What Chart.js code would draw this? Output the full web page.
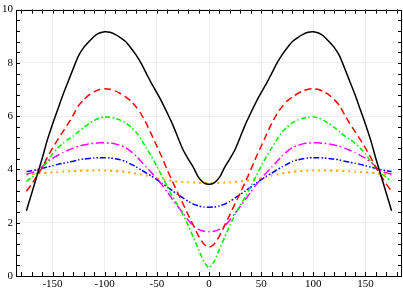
<!DOCTYPE html>
<html>
<head>
<meta charset="utf-8">
<script src="https://cdn.jsdelivr.net/npm/chart.js@4.4.1/dist/chart.umd.min.js"></script>
<style>
html,body{margin:0;padding:0;background:#fff;}
#wrap{width:403px;height:288px;position:relative;}
</style>
</head>
<body>
<div id="wrap"><canvas id="c" width="403" height="288"></canvas></div>
<script>
// x positions (degrees)
const xValues = [-175,-170,-165,-160,-155,-150,-145,-140,-135,-130,-125,-120,-115,-110,-105,-100,-95,-90,-85,-80,-75,-70,-65,-60,-55,-50,-45,-40,-35,-30,-25,-20,-15,-10,-5,0,
  5,10,15,20,25,30,35,40,45,50,55,60,65,70,75,80,85,90,95,100,105,110,115,120,125,130,135,140,145,150,155,160,165,170,175];

const blackSeries = [2.45,3.1,3.75,4.4,5.1,5.7,6.25,6.8,7.3,7.8,8.27,8.58,8.8,9.0,9.12,9.17,9.15,9.07,8.95,8.8,8.57,8.3,7.98,7.6,7.22,6.88,6.52,6.12,5.7,5.22,4.75,4.4,4.08,3.7,3.5,3.44,
  3.5,3.7,4.08,4.4,4.75,5.22,5.7,6.12,6.52,6.88,7.22,7.6,7.98,8.3,8.57,8.8,8.95,9.07,9.15,9.17,9.12,9.0,8.8,8.58,8.27,7.8,7.3,6.8,6.25,5.7,5.1,4.4,3.75,3.1,2.45];

const redSeries = [3.18,3.45,3.75,4.07,4.45,4.8,5.12,5.42,5.72,6.05,6.4,6.62,6.8,6.92,7.0,7.03,7.01,6.95,6.85,6.72,6.58,6.35,6.08,5.72,5.3,4.87,4.45,3.98,3.55,3.12,2.72,2.3,1.9,1.5,1.2,1.08,
  1.2,1.5,1.9,2.3,2.72,3.12,3.55,3.98,4.45,4.87,5.3,5.72,6.08,6.35,6.58,6.72,6.85,6.95,7.01,7.03,7.0,6.92,6.8,6.62,6.4,6.05,5.72,5.42,5.12,4.8,4.45,4.07,3.75,3.45,3.18];

const greenSeries = [3.55,3.7,3.85,4.05,4.3,4.58,4.8,4.98,5.13,5.26,5.42,5.58,5.72,5.84,5.93,5.97,5.96,5.92,5.85,5.75,5.6,5.4,5.12,4.8,4.48,4.12,3.74,3.36,2.98,2.66,2.3,1.9,1.45,1.0,0.55,0.31,
  0.55,1.0,1.45,1.9,2.3,2.66,2.98,3.36,3.74,4.12,4.48,4.8,5.12,5.4,5.6,5.75,5.85,5.92,5.96,5.97,5.93,5.84,5.72,5.58,5.42,5.26,5.13,4.98,4.8,4.58,4.3,4.05,3.85,3.7,3.55];

const magentaSeries = [3.83,3.87,3.95,4.1,4.28,4.42,4.53,4.63,4.72,4.8,4.87,4.92,4.96,4.98,5.0,5.0,4.99,4.96,4.9,4.82,4.68,4.5,4.3,4.08,3.88,3.65,3.42,3.15,2.88,2.62,2.36,2.1,1.88,1.75,1.68,1.66,
  1.68,1.75,1.88,2.1,2.36,2.62,2.88,3.15,3.42,3.65,3.88,4.08,4.3,4.5,4.68,4.82,4.9,4.96,4.99,5.0,5.0,4.98,4.96,4.92,4.87,4.8,4.72,4.63,4.53,4.42,4.28,4.1,3.95,3.87,3.83];

const blueSeries = [3.92,3.95,3.99,4.04,4.09,4.14,4.19,4.23,4.27,4.31,4.36,4.39,4.41,4.43,4.44,4.44,4.43,4.4,4.36,4.3,4.2,4.1,3.98,3.86,3.75,3.62,3.48,3.34,3.2,3.06,2.93,2.8,2.7,2.63,2.59,2.58,
  2.59,2.63,2.7,2.8,2.93,3.06,3.2,3.34,3.48,3.62,3.75,3.86,3.98,4.1,4.2,4.3,4.36,4.4,4.43,4.44,4.44,4.43,4.41,4.39,4.36,4.31,4.27,4.23,4.19,4.14,4.09,4.04,3.99,3.95,3.92];

const orangeSeries = [3.8,3.82,3.84,3.86,3.88,3.89,3.9,3.92,3.93,3.94,3.95,3.95,3.96,3.96,3.96,3.96,3.95,3.94,3.93,3.91,3.88,3.85,3.81,3.77,3.72,3.67,3.63,3.6,3.57,3.55,3.53,3.52,3.51,3.5,3.49,3.49,
  3.49,3.5,3.51,3.52,3.53,3.55,3.57,3.6,3.63,3.67,3.72,3.77,3.81,3.85,3.88,3.91,3.93,3.94,3.95,3.96,3.96,3.96,3.96,3.95,3.95,3.94,3.93,3.92,3.9,3.89,3.88,3.86,3.84,3.82,3.8];

const xTickLabels = [-150,-100,-50,0,50,100,150];
const yTickLabels = [0,2,4,6,8,10];
const xMinorTicks = [-180,-170,-160,-150,-140,-130,-120,-110,-100,-90,-80,-70,-60,-50,-40,-30,-20,-10,0,10,20,30,40,50,60,70,80,90,100,110,120,130,140,150,160,170,180];
const yMinorTicks = [0,0.4,0.8,1.2,1.6,2,2.4,2.8,3.2,3.6,4,4.4,4.8,5.2,5.6,6,6.4,6.8,7.2,7.6,8,8.4,8.8,9.2,9.6,10];

function pts(arr){ return xValues.map((x,i)=>({x:x, y:arr[i]})); }

const frame = {
  id:'frame',
  afterDatasetsDraw(chart){
    const {ctx, chartArea:a, scales:{x, y}} = chart;
    ctx.save();
    ctx.strokeStyle = '#000';
    ctx.lineWidth = 1;
    ctx.beginPath();
    const L = 4;
    xMinorTicks.forEach(v=>{
      const px = Math.round(x.getPixelForValue(v)) + 0.5;
      ctx.moveTo(px, a.bottom); ctx.lineTo(px, a.bottom - L);
      ctx.moveTo(px, a.top); ctx.lineTo(px, a.top + L);
    });
    yMinorTicks.forEach(v=>{
      const py = Math.round(y.getPixelForValue(v)) + 0.5;
      ctx.moveTo(a.left, py); ctx.lineTo(a.left + L, py);
      ctx.moveTo(a.right, py); ctx.lineTo(a.right - L, py);
    });
    ctx.stroke();
    ctx.strokeRect(Math.round(a.left)+0.5, Math.round(a.top)+0.5, Math.round(a.right - a.left)-1, Math.round(a.bottom - a.top));
    ctx.restore();
  }
};

const mk = (label, data, color, dash, width) => ({
  label, data: pts(data), borderColor: color, backgroundColor: color,
  borderWidth: width, borderDash: dash, pointRadius: 0, tension: 0.2, fill: false
});

new Chart(document.getElementById('c'), {
  type: 'line',
  data: {
    datasets: [
      mk('black', blackSeries, '#000000', [], 1.5),
      mk('red', redSeries, '#ff0000', [7,4], 1.5),
      mk('green', greenSeries, '#00ee00', [5,2.5,1.5,2.5], 1.5),
      mk('magenta', magentaSeries, '#ff00ff', [8,3,1.5,3], 1.5),
      mk('blue', blueSeries, '#0000ff', [6,2,1.5,2,1.5,2], 1.5),
      mk('orange', orangeSeries, '#ffa500', [2,4], 2)
    ]
  },
  options: {
    responsive: false,
    animation: false,
    events: [],
    layout: { padding: { top: 4, right: 1, left: 0, bottom: 0 } },
    plugins: { legend: { display: false }, tooltip: { enabled: false } },
    scales: {
      x: {
        type: 'linear', min: -185, max: 185,
        afterBuildTicks: s => { s.ticks = xTickLabels.map(v => ({ value: v })); },
        afterFit: s => { s.height = 12; },
        grid: { color: '#efefef', drawTicks: false, lineWidth: 1 },
        border: { display: false },
        ticks: { padding: 2, maxRotation: 0, autoSkip: false, color: '#000',
          font: { family: 'Liberation Serif', size: 11 }, callback: v => String(v) }
      },
      y: {
        type: 'linear', min: 0, max: 10,
        afterBuildTicks: s => { s.ticks = yTickLabels.map(v => ({ value: v })); },
        afterFit: s => { s.width = 16; },
        grid: { color: '#efefef', drawTicks: false, lineWidth: 1 },
        border: { display: false },
        ticks: { padding: 3, color: '#000',
          font: { family: 'Liberation Serif', size: 11 }, callback: v => String(v) }
      }
    }
  },
  plugins: [frame]
});
</script>
</body>
</html>
